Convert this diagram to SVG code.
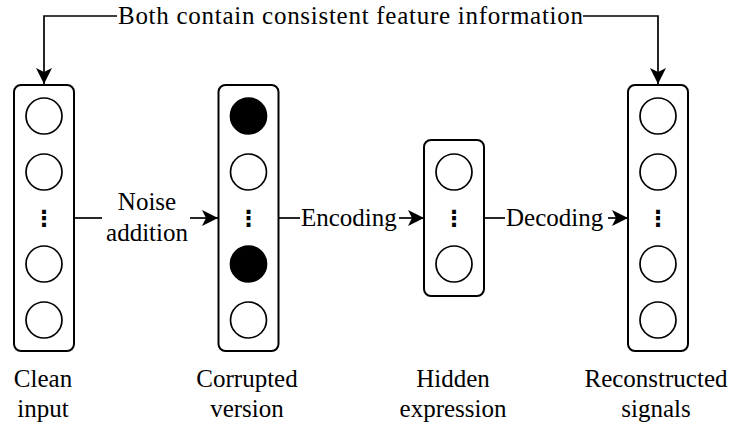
<svg xmlns="http://www.w3.org/2000/svg" width="737" height="428" viewBox="0 0 737 428">
<defs>
<style>
.box{fill:#fff;stroke:#000;stroke-width:2}
.c{fill:#fff;stroke:#000;stroke-width:1.7}
.f{fill:#000;stroke:#000;stroke-width:1.7}
.ln{fill:none;stroke:#000;stroke-width:1.7}
</style>
<marker id="ah" viewBox="0 0 16 16" refX="16" refY="8" markerWidth="16" markerHeight="16" markerUnits="userSpaceOnUse" orient="auto">
<path d="M0,0 L16,8 L0,16 L4,8 Z" fill="#000"/>
</marker>
</defs>
<rect width="737" height="428" fill="#fff"/>

<g id="connectors">
<path class="ln" d="M117,16 H44 V84" marker-end="url(#ah)"/>
<path class="ln" d="M583,16 H658 V84" marker-end="url(#ah)"/>
<path class="ln" d="M74,218 H102"/>
<path class="ln" d="M190,218 H218" marker-end="url(#ah)"/>
<path class="ln" d="M279,218 H300"/>
<path class="ln" d="M399,218 H424" marker-end="url(#ah)"/>
<path class="ln" d="M484,218 H505"/>
<path class="ln" d="M608,218 H628" marker-end="url(#ah)"/>
<text x="118" y="24" font-family="'Liberation Serif'" font-size="25" textLength="465" lengthAdjust="spacing">Both contain consistent feature information</text>
<text x="147" y="210" font-family="'Liberation Serif'" font-size="25" text-anchor="middle">Noise</text>
<text x="147" y="241" font-family="'Liberation Serif'" font-size="25" text-anchor="middle">addition</text>
<text x="301" y="226" font-family="'Liberation Serif'" font-size="25">Encoding</text>
<text x="506" y="226" font-family="'Liberation Serif'" font-size="25">Decoding</text>
</g>

<g id="clean-input">
<rect class="box" x="14" y="85" width="60" height="266" rx="7"/>
<circle class="c" cx="44" cy="116" r="18"/>
<circle class="c" cx="44" cy="172" r="18"/>
<text x="44" y="226" font-family="'DejaVu Sans'" font-weight="bold" font-size="22" text-anchor="middle">⋮</text>
<circle class="c" cx="44" cy="264" r="18"/>
<circle class="c" cx="44" cy="320" r="18"/>
<text x="43" y="387" font-family="'Liberation Serif'" font-size="25" text-anchor="middle">Clean</text>
<text x="43" y="417" font-family="'Liberation Serif'" font-size="25" text-anchor="middle">input</text>
</g>

<g id="corrupted-version">
<rect class="box" x="218.5" y="85" width="60" height="266" rx="7"/>
<circle class="f" cx="248.5" cy="116" r="18"/>
<circle class="c" cx="248.5" cy="172" r="18"/>
<text x="248.5" y="226" font-family="'DejaVu Sans'" font-weight="bold" font-size="22" text-anchor="middle">⋮</text>
<circle class="f" cx="248.5" cy="264" r="18"/>
<circle class="c" cx="248.5" cy="320" r="18"/>
<text x="247" y="387" font-family="'Liberation Serif'" font-size="25" text-anchor="middle">Corrupted</text>
<text x="247" y="417" font-family="'Liberation Serif'" font-size="25" text-anchor="middle">version</text>
</g>

<g id="hidden-expression">
<rect class="box" x="424" y="140" width="60" height="156" rx="7"/>
<circle class="c" cx="454" cy="172" r="18"/>
<text x="454" y="226" font-family="'DejaVu Sans'" font-weight="bold" font-size="22" text-anchor="middle">⋮</text>
<circle class="c" cx="454" cy="264" r="18"/>
<text x="453" y="387" font-family="'Liberation Serif'" font-size="25" text-anchor="middle">Hidden</text>
<text x="453" y="417" font-family="'Liberation Serif'" font-size="25" text-anchor="middle">expression</text>
</g>

<g id="reconstructed-signals">
<rect class="box" x="628" y="85" width="60" height="266" rx="7"/>
<circle class="c" cx="658" cy="116" r="18"/>
<circle class="c" cx="658" cy="172" r="18"/>
<text x="658" y="226" font-family="'DejaVu Sans'" font-weight="bold" font-size="22" text-anchor="middle">⋮</text>
<circle class="c" cx="658" cy="264" r="18"/>
<circle class="c" cx="658" cy="320" r="18"/>
<text x="656" y="387" font-family="'Liberation Serif'" font-size="25" text-anchor="middle">Reconstructed</text>
<text x="656" y="417" font-family="'Liberation Serif'" font-size="25" text-anchor="middle">signals</text>
</g>
</svg>
